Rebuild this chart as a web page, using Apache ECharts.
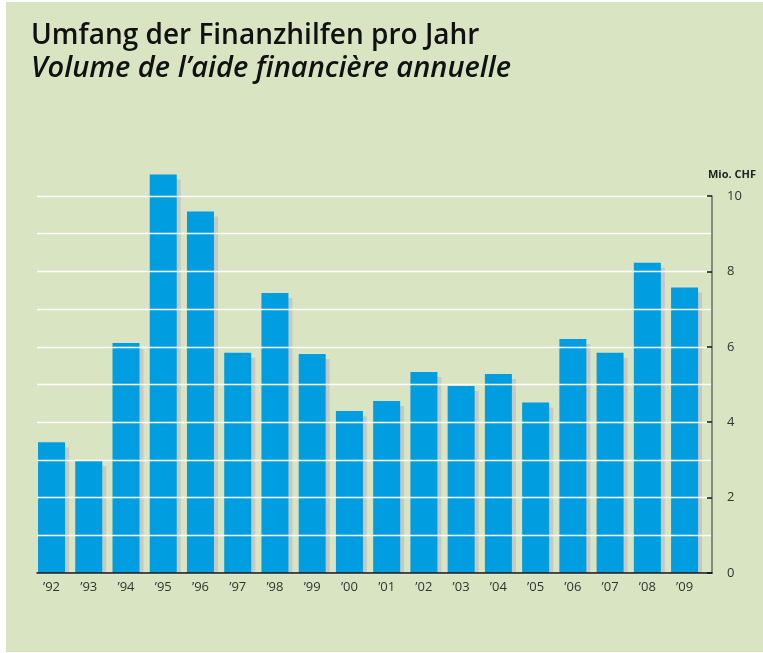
<!DOCTYPE html>
<html>
<head>
<meta charset="utf-8">
<script src="https://cdn.jsdelivr.net/npm/echarts@6/dist/echarts.min.js"></script>
<style>
  html, body { margin: 0; padding: 0; background: #ffffff; }
  #main { position: absolute; left: 6px; top: 2px; width: 757px; height: 650px; }
</style>
</head>
<body>
<div id="main"></div>
<script>
  // Finanzhilfen pro Jahr, Mio. CHF
  var years = ['\u201992', '\u201993', '\u201994', '\u201995', '\u201996', '\u201997', '\u201998', '\u201999', '\u201900',
    '\u201901', '\u201902', '\u201903', '\u201904', '\u201905', '\u201906', '\u201907', '\u201908', '\u201909'];
  var volume = [3.47, 2.97, 6.10, 10.57, 9.59, 5.84, 7.43, 5.81, 4.30,
    4.56, 5.33, 4.96, 5.28, 4.52, 6.21, 5.84, 8.23, 7.57];
  var yMax = 10;
  var yStep = 2;

  var font = '"Open Sans", "Noto Sans", sans-serif';
  var blue = '#009ee0';
  var shade = '#c6c8c3';
  var barW = 27;

  var myChart = echarts.init(document.getElementById('main'));

  // bar + flat drop shadow, the shadow stops at the baseline
  function renderBar(params, api) {
    var top = api.coord([api.value(0), api.value(1)]);
    var base = api.coord([api.value(0), 0]);
    var h = base[1] - top[1];
    return {
      type: 'group',
      children: [
        {
          type: 'rect',
          shape: {x: top[0] - barW / 2 + 4, y: top[1] + 5, width: barW, height: Math.max(h - 5, 0)},
          style: {fill: shade}
        },
        {
          type: 'rect',
          shape: {x: top[0] - barW / 2, y: top[1], width: barW, height: h},
          style: {fill: blue}
        }
      ]
    };
  }

  var option = {
    backgroundColor: '#d9e5c2',
    animation: false,
    title: [
      {
        text: 'Umfang der Finanzhilfen pro Jahr',
        left: 25, top: 20, padding: 0,
        textStyle: {fontFamily: font, fontSize: 28, fontWeight: 600, color: '#111'}
      },
      {
        text: 'Volume de l\u2019aide financi\u00e8re annuelle',
        left: 25, top: 52, padding: 0,
        textStyle: {fontFamily: font, fontSize: 29, fontWeight: 600, fontStyle: 'italic', color: '#111'}
      },
      {
        text: 'Mio. CHF',
        left: 702, top: 167, padding: 0,
        textStyle: {fontFamily: font, fontSize: 11, fontWeight: 'bold', color: '#222'}
      }
    ],
    grid: [
      // bars
      {left: 26.9, width: 670.3, top: 194, height: 377},
      // frame: grid lines and axes
      {left: 31, width: 675, top: 194, height: 377}
    ],
    xAxis: [
      {
        gridIndex: 0, type: 'category', data: years, z: 4,
        axisLine: {show: false},
        axisTick: {inside: true, length: 6, alignWithLabel: true, lineStyle: {color: '#1a1a1a', width: 1.2}},
        axisLabel: {margin: 8, fontFamily: font, fontSize: 13, color: '#333'}
      },
      {
        gridIndex: 1, type: 'category', data: years, z: 4,
        axisLine: {lineStyle: {color: '#111', width: 1.5}},
        axisTick: {show: false},
        axisLabel: {show: false}
      }
    ],
    yAxis: [
      {gridIndex: 0, type: 'value', min: 0, max: yMax, show: false},
      {
        gridIndex: 1, type: 'value', position: 'right', min: 0, max: yMax, interval: yStep, z: 4,
        axisLine: {show: true, lineStyle: {color: '#6b6b5c', width: 1.5}},
        axisTick: {show: true, inside: true, length: 5, lineStyle: {color: '#111', width: 1.5}},
        axisLabel: {margin: 15, fontFamily: font, fontSize: 13, color: '#333'},
        splitLine: {show: true, lineStyle: {color: '#ffffff', width: 1.3}},
        minorTick: {show: false, splitNumber: 2},
        minorSplitLine: {show: true, lineStyle: {color: '#ffffff', width: 1.3}}
      }
    ],
    series: [
      {
        type: 'custom',
        xAxisIndex: 0,
        yAxisIndex: 0,
        clip: false,
        renderItem: renderBar,
        encode: {x: 0, y: 1},
        data: volume.map(function (v, i) { return [i, v]; })
      }
    ]
  };

  myChart.setOption(option);
</script>
</body>
</html>
